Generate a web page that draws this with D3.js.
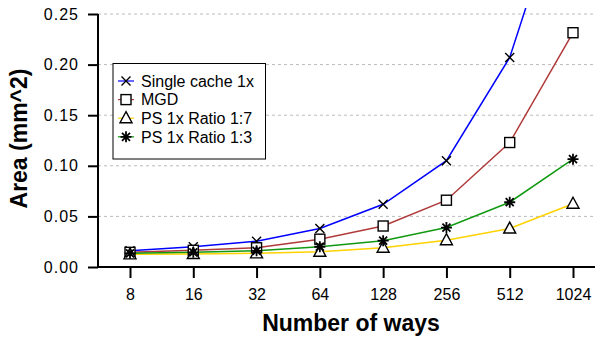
<!DOCTYPE html>
<html>
<head>
<meta charset="utf-8">
<script src="https://cdn.jsdelivr.net/npm/d3@7"></script>
<style>
  body { margin: 0; background: #fff; }
  text { font-family: "Liberation Sans", Arial, sans-serif; }
</style>
</head>
<body>
<svg id="chart" width="595" height="338"></svg>
<script>
let ways = ['8', '16', '32', '64', '128', '256', '512', '1024'];
let yTicks = [0, 0.05, 0.10, 0.15, 0.20, 0.25];

let singleCache = [0.016, 0.020, 0.0255, 0.038, 0.062, 0.105, 0.207, 0.40];
let mgd = [0.0145, 0.0165, 0.019, 0.0275, 0.0405, 0.066, 0.123, 0.2315];
let ps17 = [0.0125, 0.0128, 0.0135, 0.015, 0.019, 0.0265, 0.038, 0.0625];
let ps13 = [0.0135, 0.0145, 0.016, 0.020, 0.026, 0.039, 0.064, 0.1065];

let seriesNames = ['Single cache 1x', 'MGD', 'PS 1x Ratio 1:7', 'PS 1x Ratio 1:3'];

let series = [
    { name: seriesNames[0], values: singleCache, color: '#0000ff', marker: 'x' },
    { name: seriesNames[1], values: mgd, color: '#b03a3a', marker: 'square' },
    { name: seriesNames[2], values: ps17, color: '#ffd200', marker: 'triangle' },
    { name: seriesNames[3], values: ps13, color: '#119911', marker: 'star' }
];

let plotLeft = 98, plotRight = 595, plotTop = 8, plotBottom = 267;

let svg = d3.select('#chart');

let x = d3.scalePoint().domain(ways).range([130, 573]);
let y = d3.scaleLinear().domain([0, 0.25]).range([plotBottom, 14]);

// grid lines
svg.append('g').selectAll('line')
    .data(yTicks.filter(d => d > 0))
    .join('line')
    .attr('x1', plotLeft).attr('x2', plotRight)
    .attr('y1', d => y(d)).attr('y2', d => y(d))
    .attr('stroke', '#bbb')
    .attr('stroke-width', 1)
    .attr('stroke-dasharray', '3,3');

// y axis
let yAxis = svg.append('g')
    .attr('transform', 'translate(' + plotLeft + ',0)')
    .call(d3.axisLeft(y).tickValues(yTicks).tickFormat(d3.format('.2f')).tickSize(10).tickPadding(9));
yAxis.select('.domain').remove();
yAxis.append('line').attr('x1', 0).attr('x2', 0).attr('y1', 14).attr('y2', plotBottom)
    .attr('stroke', '#000').attr('stroke-width', 2);
yAxis.selectAll('.tick line').attr('stroke-width', 2);
yAxis.selectAll('text').attr('font-size', 16).attr('letter-spacing', 1).attr('fill', '#000');

// x axis
let xAxis = svg.append('g')
    .attr('transform', 'translate(0,' + plotBottom + ')')
    .call(d3.axisBottom(x).tickSize(11).tickPadding(11));
xAxis.select('.domain').remove();
xAxis.append('line').attr('x1', plotLeft).attr('x2', plotRight).attr('y1', 0).attr('y2', 0)
    .attr('stroke', '#000').attr('stroke-width', 2);
xAxis.selectAll('.tick line').attr('stroke-width', 2);
xAxis.selectAll('text').attr('font-size', 16).attr('fill', '#000');

// titles
svg.append('text')
    .attr('x', 351).attr('y', 331)
    .attr('text-anchor', 'middle')
    .attr('font-size', 23).attr('font-weight', 'bold')
    .text('Number of ways');

svg.append('text')
    .attr('transform', 'translate(27,138.5) rotate(-90)')
    .attr('text-anchor', 'middle')
    .attr('font-size', 23).attr('font-weight', 'bold')
    .text('Area (mm^2)');

// clip for the data
svg.append('clipPath').attr('id', 'plotclip')
    .append('rect').attr('x', plotLeft).attr('y', plotTop)
    .attr('width', plotRight - plotLeft).attr('height', plotBottom - plotTop + 20);

function drawMarker(g, type, cx, cy) {
    let m = g.append('g').attr('transform', 'translate(' + cx + ',' + cy + ')')
        .attr('stroke', '#000').attr('stroke-width', 1.4).attr('fill', 'none');
    if (type === 'x') {
        m.append('path').attr('d', 'M-4.5,-4.5L4.5,4.5M-4.5,4.5L4.5,-4.5');
    } else if (type === 'square') {
        m.append('rect').attr('x', -5).attr('y', -5).attr('width', 10).attr('height', 10).attr('fill', '#fff');
    } else if (type === 'triangle') {
        m.append('path').attr('d', 'M0,-6.5L6,4.5L-6,4.5Z').attr('fill', '#fff');
    } else {
        m.attr('stroke-width', 1.8);
        m.append('path').attr('d', 'M-5.5,0L5.5,0M0,-5.5L0,5.5M-4,-4L4,4M-4,4L4,-4');
    }
}

let plot = svg.append('g').attr('clip-path', 'url(#plotclip)');

let line = d3.line()
    .x((d, i) => x(ways[i]))
    .y(d => y(d));

series.forEach(s => {
    plot.append('path')
        .datum(s.values)
        .attr('d', line)
        .attr('fill', 'none')
        .attr('stroke', s.color)
        .attr('stroke-width', 1.5);
});

series.forEach(s => {
    s.values.forEach((v, i) => {
        if (v <= 0.25) drawMarker(plot, s.marker, x(ways[i]), y(v));
    });
});

// legend
let legend = svg.append('g');
legend.append('rect')
    .attr('x', 113).attr('y', 63.5).attr('width', 152.5).attr('height', 95.5)
    .attr('fill', '#fff').attr('stroke', '#000').attr('stroke-width', 1);

series.forEach((s, i) => {
    let cy = 81 + i * 18.6;
    legend.append('line')
        .attr('x1', 118).attr('x2', 134).attr('y1', cy).attr('y2', cy)
        .attr('stroke', s.color).attr('stroke-width', 1.2);
    drawMarker(legend, s.marker, 126, cy);
    legend.append('text')
        .attr('x', 141).attr('y', cy + 5.8)
        .attr('font-size', 16)
        .text(s.name);
});
</script>
</body>
</html>
